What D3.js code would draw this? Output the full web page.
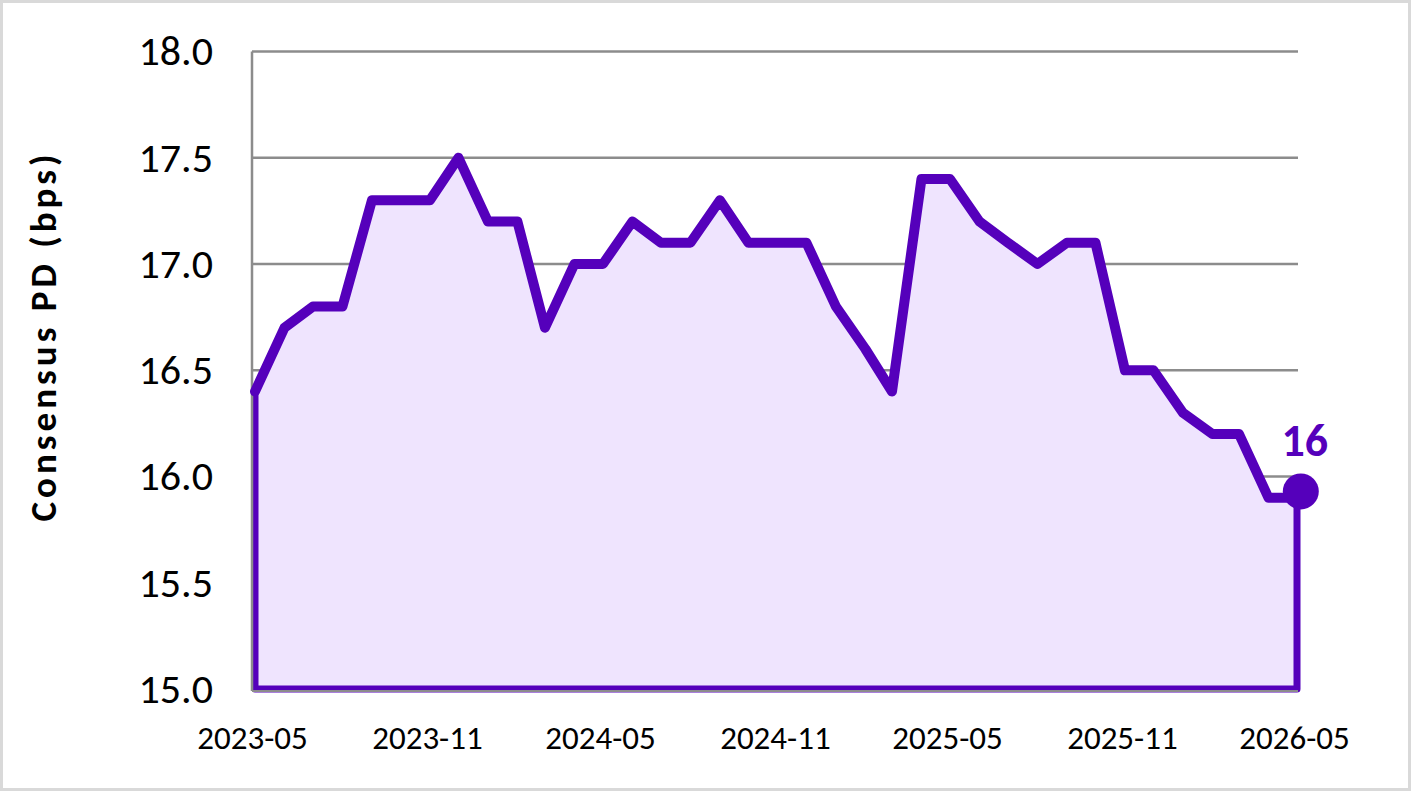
<!DOCTYPE html>
<html>
<head>
<meta charset="utf-8">
<script src="https://cdn.jsdelivr.net/npm/d3@7"></script>
<style>
  body { margin: 0; background: #fff; }
  svg text { font-family: Carlito, Calibri, Lato, sans-serif; }
</style>
</head>
<body>
<svg id="chart"></svg>
<script>
// monthly consensus PD (bps)
const months = ["2023-05","2023-06","2023-07","2023-08","2023-09","2023-10","2023-11","2023-12",
  "2024-01","2024-02","2024-03","2024-04","2024-05","2024-06","2024-07","2024-08","2024-09","2024-10","2024-11","2024-12",
  "2025-01","2025-02","2025-03","2025-04","2025-05","2025-06","2025-07","2025-08","2025-09","2025-10","2025-11","2025-12",
  "2026-01","2026-02","2026-03","2026-04","2026-05"];
const pdValues = [16.4,16.7,16.8,16.8,17.3,17.3,17.3,17.5,
  17.2,17.2,16.7,17.0,17.0,17.2,17.1,17.1,17.3,17.1,17.1,17.1,
  16.8,16.6,16.4,17.4,17.4,17.2,17.1,17.0,17.1,17.1,16.5,16.5,
  16.3,16.2,16.2,15.9,15.9];
const xTickLabels = ["2023-05","2023-11","2024-05","2024-11","2025-05","2025-11","2026-05"];
const yTickValues = [15.0,15.5,16.0,16.5,17.0,17.5,18.0];
const latestDate = "2026-05-05";
const latestValue = 15.93;
const latestLabel = "16";

const width = 1412, height = 791;
const purple = "#5500bb", fillColor = "#efe4fe", gridColor = "#8c8c8c";

const parseMonth = d3.timeParse("%Y-%m");
const parseDay = d3.timeParse("%Y-%m-%d");
const data = months.map((m, i) => ({date: parseMonth(m), value: pdValues[i]}));

const svg = d3.select("#chart").attr("width", width).attr("height", height);

// outer frame
svg.append("rect")
  .attr("x", 1.5).attr("y", 1.5)
  .attr("width", width - 4).attr("height", height - 3)
  .attr("fill", "#fff").attr("stroke", "#d9d9d9").attr("stroke-width", 3);

const x = d3.scaleTime()
  .domain([parseMonth(months[0]), parseMonth(months[months.length - 1])])
  .range([255, 1297]);
const y = d3.scaleLinear().domain([15, 18]).range([689, 51.5]);

const gridLeft = x.range()[0] - 3, gridRight = x.range()[1] + 1;

// horizontal gridlines
svg.append("g").selectAll("line")
  .data(yTickValues.filter(v => v > 15))
  .join("line")
  .attr("x1", gridLeft).attr("x2", gridRight)
  .attr("y1", d => y(d)).attr("y2", d => y(d))
  .attr("stroke", gridColor).attr("stroke-width", 2.5);

// area
const area = d3.area()
  .x(d => x(d.date))
  .y0(y(15))
  .y1(d => y(d.value));

svg.append("path")
  .datum(data)
  .attr("d", area)
  .attr("fill", fillColor)
  .attr("stroke", purple)
  .attr("stroke-width", 7)
  .attr("stroke-linejoin", "round");

// axis lines on top of area outline
svg.append("line")
  .attr("x1", gridLeft).attr("x2", gridLeft)
  .attr("y1", y(18)).attr("y2", y(15) + 2)
  .attr("stroke", gridColor).attr("stroke-width", 2.5);
svg.append("line")
  .attr("x1", gridLeft).attr("x2", gridRight)
  .attr("y1", y(15) + 2).attr("y2", y(15) + 2)
  .attr("stroke", gridColor).attr("stroke-width", 2);

// main line
const line = d3.line()
  .x(d => x(d.date))
  .y(d => y(d.value));

svg.append("path")
  .datum(data)
  .attr("d", line)
  .attr("fill", "none")
  .attr("stroke", purple)
  .attr("stroke-width", 10)
  .attr("stroke-linejoin", "round")
  .attr("stroke-linecap", "round");

// latest point marker and label
svg.append("circle")
  .attr("cx", x(parseDay(latestDate)))
  .attr("cy", y(latestValue))
  .attr("r", 18)
  .attr("fill", purple);

svg.append("text")
  .attr("x", x(parseDay(latestDate)) + 4)
  .attr("y", y(latestValue) - 35)
  .attr("text-anchor", "middle")
  .attr("font-size", 46)
  .attr("font-weight", "bold")
  .attr("fill", purple)
  .text(latestLabel);

// y tick labels
const yAxis = d3.axisLeft(y)
  .tickValues(yTickValues)
  .tickFormat(d3.format(".1f"))
  .tickSize(0)
  .tickPadding(0);

svg.append("g")
  .attr("transform", `translate(${gridLeft - 39},0)`)
  .call(yAxis)
  .call(g => g.select(".domain").remove())
  .call(g => g.selectAll("text")
    .attr("font-size", 42)
    .attr("fill", "#000")
    .style("font-family", "Carlito, Calibri, Lato, sans-serif"));

// x tick labels
const xAxis = d3.axisBottom(x)
  .tickValues(xTickLabels.map(parseMonth))
  .tickFormat(d3.timeFormat("%Y-%m"))
  .tickSize(0)
  .tickPadding(0);

svg.append("g")
  .attr("transform", `translate(-3,${y(15) + 37})`)
  .call(xAxis)
  .call(g => g.select(".domain").remove())
  .call(g => g.selectAll("text")
    .attr("font-size", 33)
    .attr("fill", "#000")
    .style("font-family", "Carlito, Calibri, Lato, sans-serif"));

// y axis title
svg.append("text")
  .attr("transform", `translate(56,336) rotate(-90)`)
  .attr("text-anchor", "middle")
  .attr("font-size", 37)
  .attr("font-weight", "bold")
  .attr("letter-spacing", 4)
  .attr("fill", "#000")
  .text("Consensus PD (bps)");
</script>
</body>
</html>
